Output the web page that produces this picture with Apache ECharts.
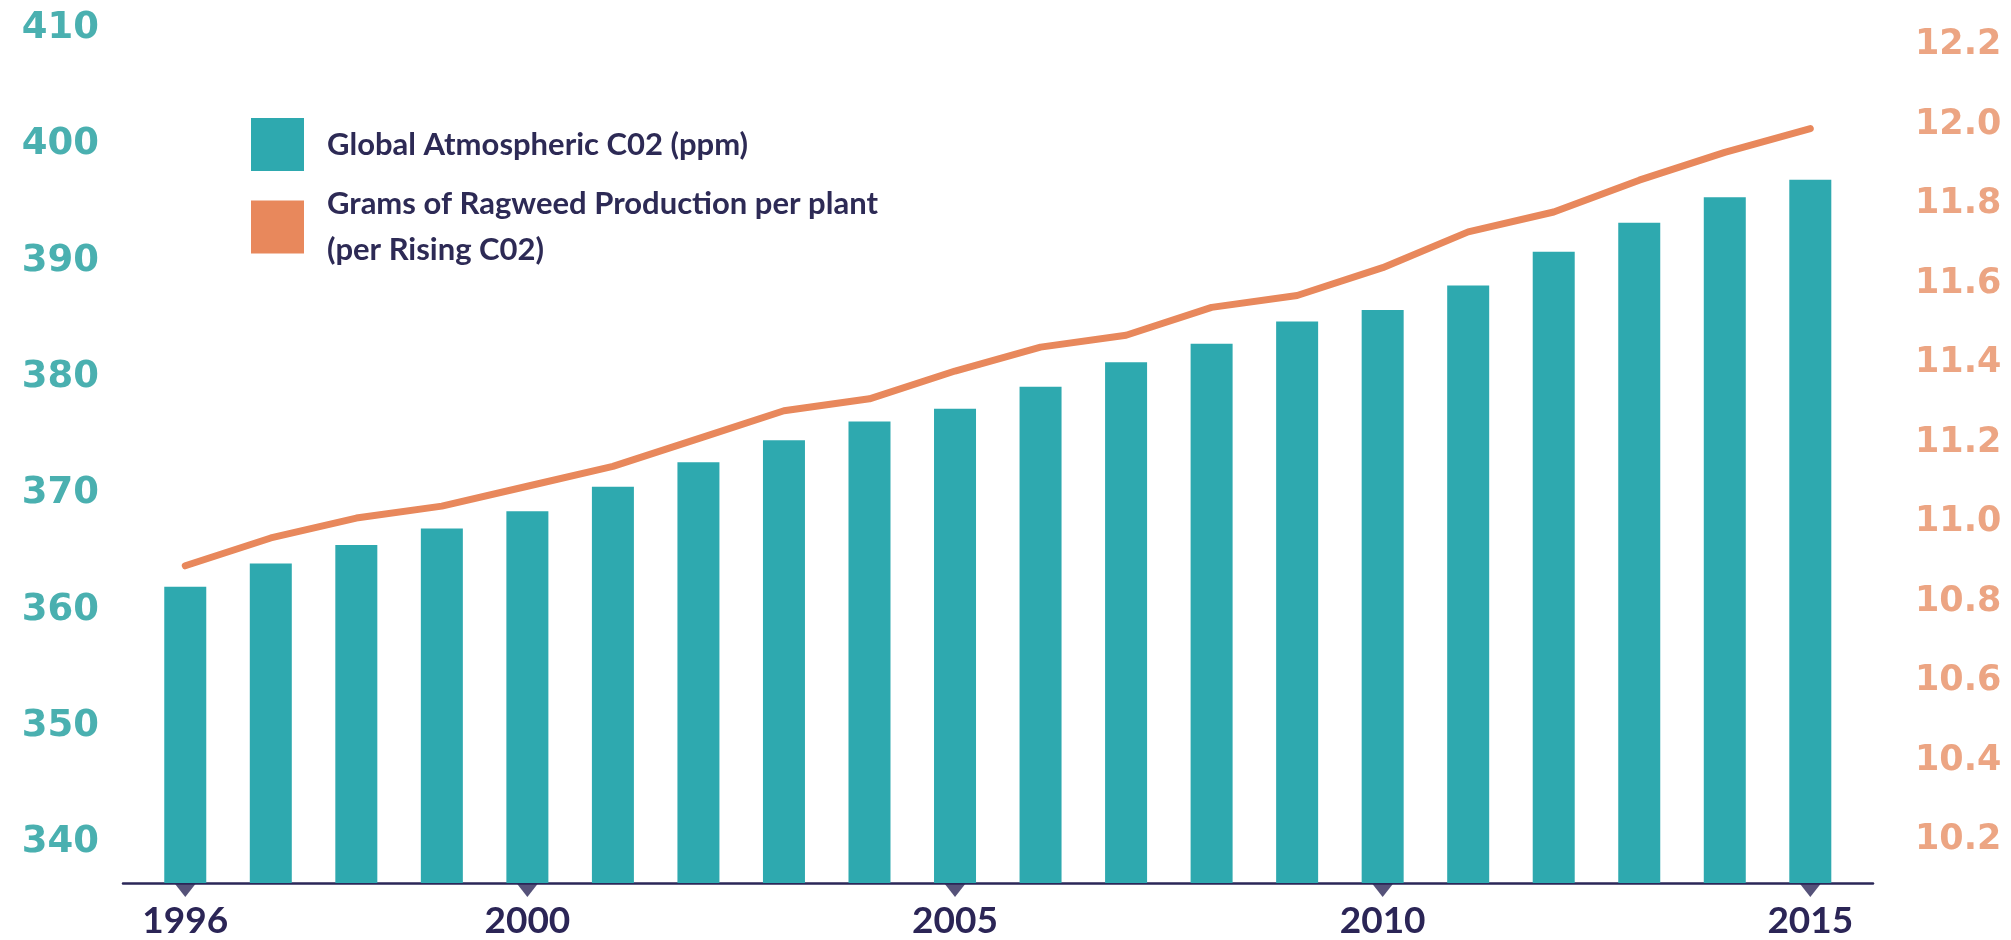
<!DOCTYPE html>
<html><head><meta charset="utf-8">
<script src="https://cdn.jsdelivr.net/npm/echarts@6/dist/echarts.min.js"></script>
<style>html,body{margin:0;padding:0;background:#fff}#c{width:2011px;height:940px}</style>
</head><body><div id="c"></div>
<script>
// ---- data ----
const years = [1996,1997,1998,1999,2000,2001,2002,2003,2004,2005,2006,2007,2008,2009,2010,2011,2012,2013,2014,2015];
const co2Ppm = [362.0,364.0,365.6,367.0,368.5,370.6,372.7,374.6,376.2,377.3,379.2,381.3,382.9,384.8,385.8,387.9,390.8,393.3,395.5,397.0];
const ragweedGrams = [10.89,10.96,11.01,11.04,11.09,11.14,11.21,11.28,11.31,11.38,11.44,11.47,11.54,11.57,11.64,11.73,11.78,11.86,11.93,11.99];
const xTickYears = [1996,2000,2005,2010,2015];
const seriesNames = ['Global Atmospheric C02 (ppm)', 'Grams of Ragweed Production per plant\n(per Rising C02)'];

// ---- axis ranges ----
const leftMin = 336.53, leftMax = 410.73;
const rightMin = 10.092, rightMax = 12.263;
const xMin = 1995.272, xMax = 2015.733;

const TEAL = '#2EA9AF', ORANGE = '#E8885C', NAVY = '#2B2758';

const chart = echarts.init(document.getElementById('c'), null, {renderer: 'canvas'});
chart.setOption({
  animation: false,
  backgroundColor: '#ffffff',
  grid: {left: 123, right: 138, top: 20, bottom: 57},
  legend: [
    {
      left: 251, top: 118, padding: 0, orient: 'vertical', selectedMode: false,
      itemWidth: 53, itemHeight: 53, icon: 'rect',
      data: [{name: seriesNames[0], icon: 'rect', itemStyle: {color: TEAL, borderWidth: 0}}],
      textStyle: {fontFamily: 'Lato', fontWeight: 'bold', fontSize: 31, color: '#2D2A55', lineHeight: 46, padding: [0, 0, 0, 18]}
    },
    {
      left: 251, top: 158, padding: 0, orient: 'vertical', selectedMode: false,
      itemWidth: 53, itemHeight: 53, icon: 'rect',
      data: [{name: seriesNames[1], icon: 'rect', itemStyle: {color: ORANGE, borderWidth: 0}}],
      textStyle: {fontFamily: 'Lato', fontWeight: 'bold', fontSize: 31, color: '#2D2A55', lineHeight: 46, padding: [46, 0, 0, 18]}
    }
  ],
  xAxis: {
    type: 'value', min: xMin, max: xMax, minInterval: 1, maxInterval: 1,
    axisLine: {show: true, lineStyle: {color: NAVY, width: 2.5}},
    axisTick: {show: false},
    splitLine: {show: false},
    axisLabel: {
      margin: 20, fontFamily: 'Lato', fontWeight: 'bold', fontSize: 37, color: '#2B2556',
      showMinLabel: false, showMaxLabel: false,
      formatter: function (v) {
        const r = Math.round(v);
        return (Math.abs(v - r) < 1e-6 && xTickYears.indexOf(r) >= 0) ? String(r) : '';
      }
    }
  },
  yAxis: [
    {
      type: 'value', min: leftMin, max: leftMax, minInterval: 10, maxInterval: 10,
      axisLine: {show: false}, axisTick: {show: false}, splitLine: {show: false},
      axisLabel: {
        margin: 24, fontFamily: 'DejaVu Sans', fontWeight: 'bold', fontSize: 37, color: '#4AB0B0',
        showMinLabel: false, showMaxLabel: false,
        formatter: function (v) { return Math.abs(v - Math.round(v)) < 1e-6 ? String(Math.round(v)) : ''; }
      }
    },
    {
      type: 'value', min: rightMin, max: rightMax, minInterval: 0.2, maxInterval: 0.2,
      axisLine: {show: false}, axisTick: {show: false}, splitLine: {show: false},
      axisLabel: {
        margin: 42, fontFamily: 'DejaVu Sans', fontWeight: 'bold', fontSize: 35, color: '#ECA583',
        showMinLabel: false, showMaxLabel: false,
        formatter: function (v) { return v.toFixed(1); }
      }
    }
  ],
  series: [
    {
      name: seriesNames[0], type: 'bar', yAxisIndex: 0, barWidth: 42,
      itemStyle: {color: TEAL},
      data: years.map(function (y, i) { return [y, co2Ppm[i]]; })
    },
    {
      name: seriesNames[1], type: 'line', yAxisIndex: 1, symbol: 'none',
      lineStyle: {width: 7, color: ORANGE, cap: 'round', join: 'round'},
      itemStyle: {color: ORANGE},
      data: years.map(function (y, i) { return [y, ragweedGrams[i]]; }),
      z: 3
    },
    {
      type: 'scatter', yAxisIndex: 0, silent: true, clip: false, z: 6,
      symbol: 'triangle', symbolRotate: 180, symbolSize: [22, 14], symbolOffset: [0, 7],
      itemStyle: {color: NAVY},
      data: xTickYears.map(function (y) { return [y, leftMin]; })
    }
  ]
});
</script>
</body></html>
